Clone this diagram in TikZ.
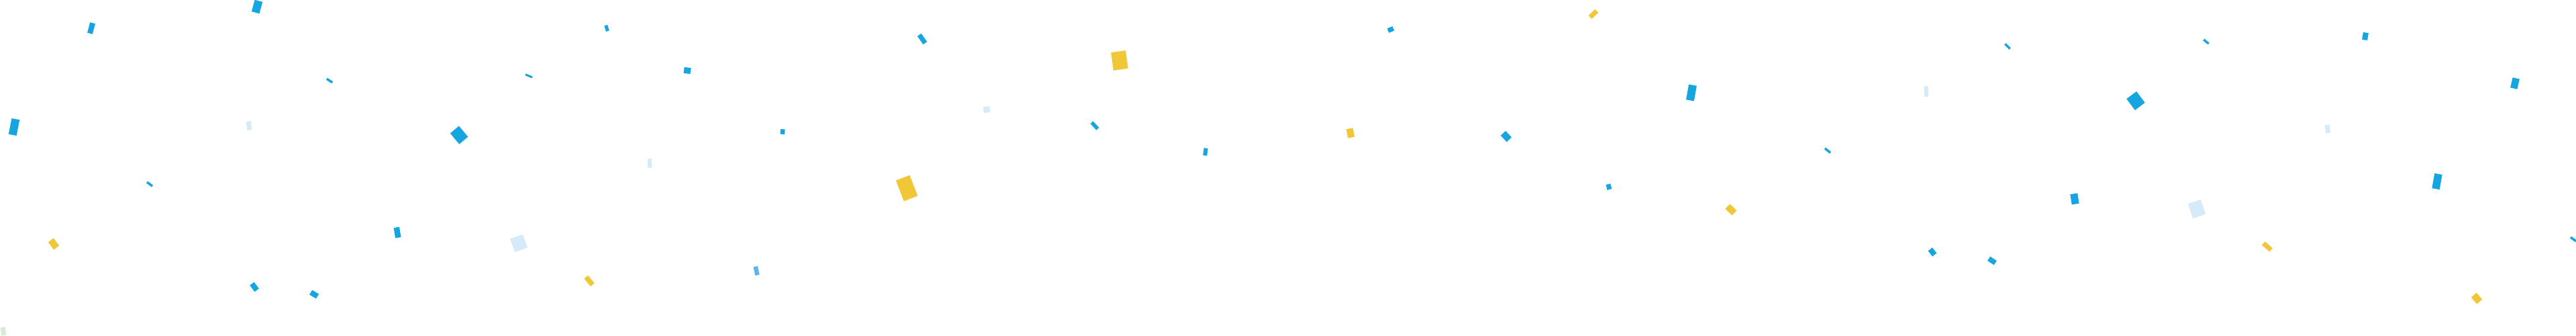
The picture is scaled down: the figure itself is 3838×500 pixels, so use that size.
\documentclass[tikz,border=0pt]{standalone}
\usepackage{xcolor}
\definecolor{confblue}{HTML}{15A5E1}
\definecolor{confmid}{HTML}{5DB4EA}
\definecolor{conflight}{HTML}{D5EBF9}
\definecolor{confyellow}{HTML}{F0C737}
\definecolor{confgreen}{HTML}{D9EBD6}

\begin{document}
\begin{tikzpicture}[x=0.01cm, y=-0.01cm]
\useasboundingbox (0,0) rectangle (3838,500);
\fill[white] (0,0) rectangle (3838,500);
% x/y/width/height/angle/colour of each bit of confetti
\foreach \x/\y/\w/\h/\a/\col in {
 136/42/8/16/-15/confblue, 383/10/12/18/-15/confblue, 21/189/12/24/-11/confblue,
 491/120/10/3.5/-33/confblue, 371/187/7/13/7/conflight, 223/274/10/3.5/-36/confblue,
 80/363/14/10/-53/confyellow, 592/346/8.5/15.5/9/confblue, 379/427/12/8/-53/confblue,
 468/438/11.5/8/-30/confblue, 5/493/7/12/8/confgreen,
 904/42/5/9/17/confblue, 788/113/11/3/-22/confblue, 1024/105/10/9/-7/confblue,
 684/201/21/17/-50/confblue, 968/243/6/13.5/4/conflight, 1166/196/6.5/7.5/-5/confblue,
 773/362/20/21/20/conflight, 878/418/15/7.5/-50/confyellow, 1127/403/6.5/13/12/confmid,
 1374/58/7/15/35/confblue, 1668/90/22/27/8/confyellow, 1470/163/9.5/9/6/conflight,
 1631/187/5.5/13/43/confblue, 1796/226/6/11/-8/confblue, 1351/280/22/33/21/confyellow,
 2072/44/8.5/7/22/confblue, 2374/21/13.5/7/43/confyellow, 2520/138/12/23/-10/confblue,
 2012/198/10/13.5/10/confyellow, 2244/203/13/10/-47/confblue, 2397/278/7/8/15/confblue,
 2991/69/10/3.5/-45/confblue, 2870/136/6/15.5/3/conflight, 3182/150/21/18.5/-53/confblue,
 2723/224/10.5/3.5/-38/confblue, 2579/312/14/10/-44/confyellow, 3091/296/11/15.5/9/confblue,
 2879/375/10.5/8/-52/confblue, 2968/388/11.5/7.5/-33/confblue,
 3287/62/9.5/3.5/-39/confblue, 3524/54/8/11/-9/confblue, 3747/124/10.5/15.5/-13/confblue,
 3468/192/7/12/7/conflight, 3631/270/11.5/22.5/-10/confblue, 3273/311/20/23/19/conflight,
 3378/367/15/7/-41/confyellow, 3690/444/13/10.5/-49/confyellow, 3834/356/10/3.5/-36/confblue}{
 \fill[fill=\col, shift={(\x,\y)}, rotate=\a] (-\w/2,-\h/2) rectangle (\w/2,\h/2);
}
\end{tikzpicture}
\end{document}
